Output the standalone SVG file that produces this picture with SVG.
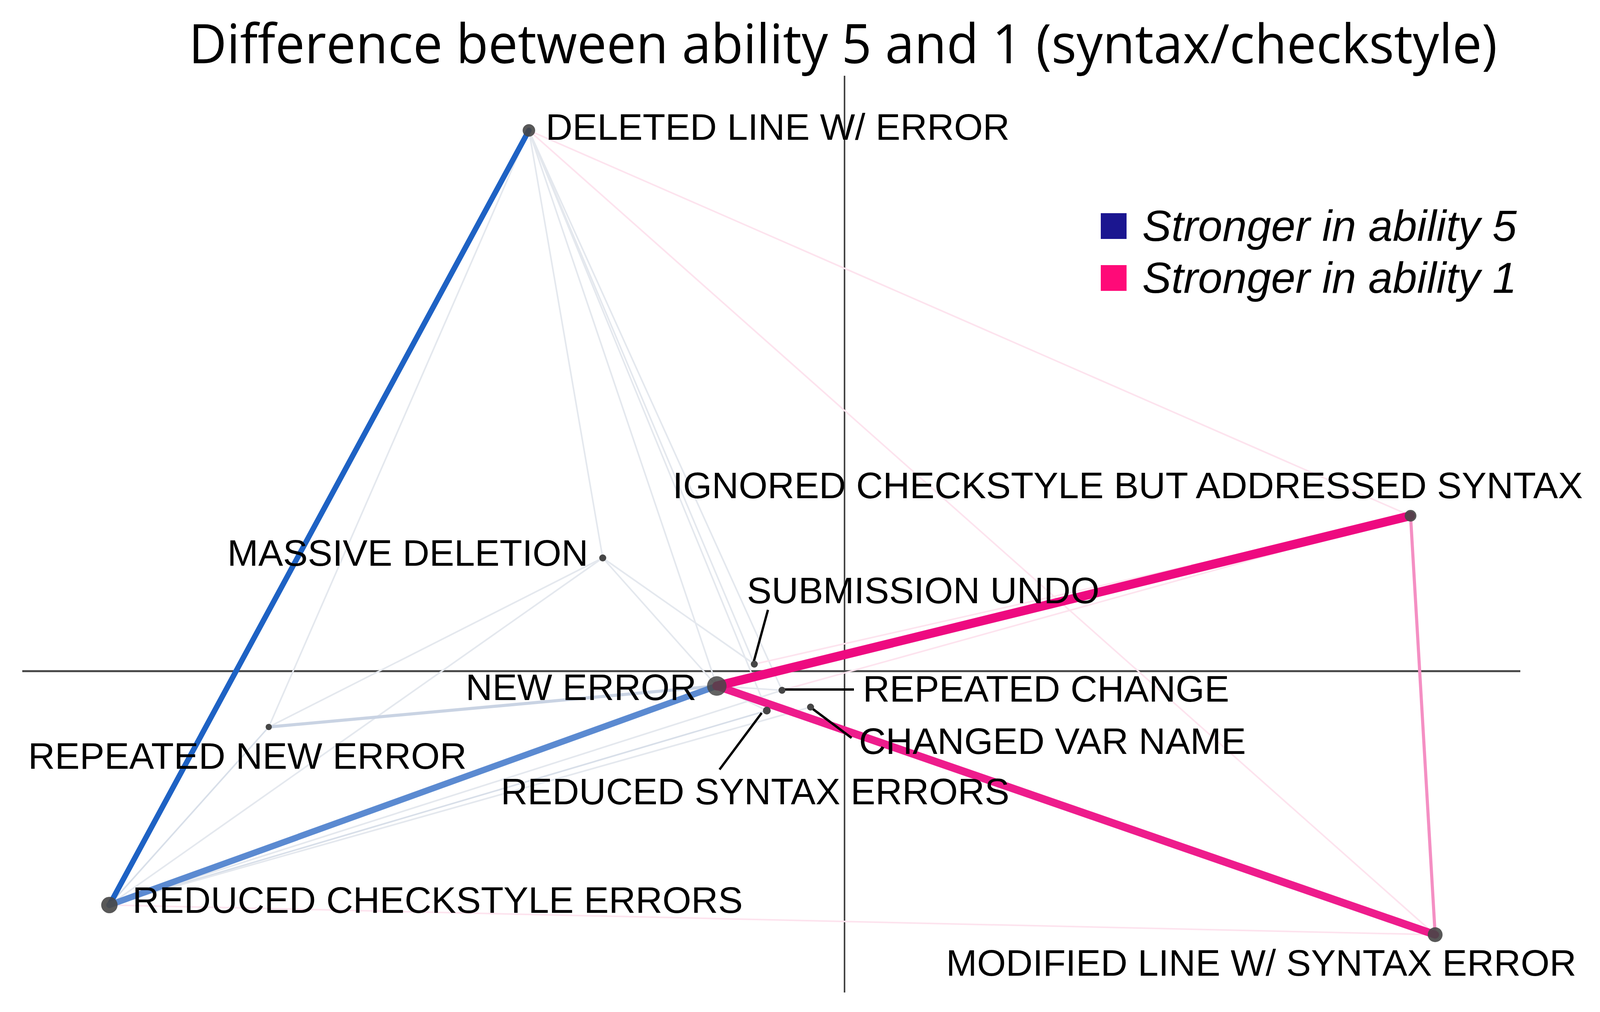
<svg xmlns="http://www.w3.org/2000/svg" width="4125" height="2592" viewBox="0 0 4125 2592">
<style>
.lbl{font-family:"Liberation Sans",Arial,sans-serif;font-size:95px;fill:#000}
.leg{font-family:"Liberation Sans",Arial,sans-serif;font-size:112px;font-style:italic;fill:#000}
.title{font-family:"Open Sans","Liberation Sans",sans-serif;font-size:140px;fill:#000}
.node{fill:#464646}
.axis{stroke:#444;fill:none}
.lead{stroke:#000;stroke-width:6;fill:none}
.e{fill:none;stroke-linecap:round}
.fb{stroke:#e4e8ee;stroke-width:4}
.fb2{stroke:#d8dfe9;stroke-width:4}
.fp{stroke:#fde3ee;stroke-width:4}
</style>
<rect width="4125" height="2592" fill="#fff"/>
<text class="title" x="483" y="162" textLength="3350" lengthAdjust="spacingAndGlyphs">Difference between ability 5 and 1 (syntax/checkstyle)</text>
<g id="axes">
<line class="axis" x1="57" y1="1719" x2="3892" y2="1719" stroke-width="5"/>
<line class="axis" x1="2162" y1="194" x2="2162" y2="2542" stroke-width="4"/>
</g>
<g id="legend">
<rect x="2818" y="546" width="66" height="66" fill="#1b1690"/>
<text class="leg" x="2924" y="617">Stronger in ability 5</text>
<rect x="2818" y="679" width="66" height="66" fill="#ff0a78"/>
<text class="leg" x="2924" y="750">Stronger in ability 1</text>
</g>
<g id="connectors">
<line class="e fb" x1="1354" y1="334" x2="1543" y2="1429"/>
<line class="e fb" x1="1354" y1="334" x2="1835" y2="1757"/>
<line class="e fb" x1="1354" y1="334" x2="1931" y2="1701"/>
<line class="e fb" x1="1354" y1="334" x2="2002" y2="1768"/>
<line class="e fb" x1="1354" y1="334" x2="1963" y2="1820"/>
<line class="e fb" x1="1354" y1="334" x2="688" y2="1862"/>
<line class="e fp" x1="1354" y1="334" x2="3611" y2="1321"/>
<line class="e fp" x1="1354" y1="334" x2="3674" y2="2394"/>
<line class="e fb" x1="1543" y1="1429" x2="1835" y2="1757"/>
<line class="e fb" x1="1543" y1="1429" x2="1931" y2="1701"/>
<line class="e fb" x1="1543" y1="1429" x2="280" y2="2318"/>
<line class="e fb" x1="1543" y1="1429" x2="688" y2="1862"/>
<line class="e fb2" x1="688" y1="1862" x2="280" y2="2318"/>
<line class="e fb2" x1="280" y1="2318" x2="1963" y2="1820"/>
<line class="e fb" x1="280" y1="2318" x2="2002" y2="1768"/>
<line class="e fb" x1="280" y1="2318" x2="2075" y2="1811"/>
<line class="e fp" x1="280" y1="2318" x2="3674" y2="2394" stroke-width="6"/>
<line class="e fp" x1="2002" y1="1768" x2="3611" y2="1321"/>
<line class="e fp" x1="1931" y1="1701" x2="3611" y2="1321"/>
<line class="e fb" x1="1835" y1="1757" x2="2002" y2="1768"/>
<line class="e fb" x1="1835" y1="1757" x2="1963" y2="1820"/>
<line class="e" x1="688" y1="1862" x2="1835" y2="1757" stroke="#c9d3e3" stroke-width="8"/>
<line class="e" x1="3611" y1="1321" x2="3674" y2="2394" stroke="#f48fc3" stroke-width="8"/>
<line class="e" x1="1354" y1="334" x2="280" y2="2318" stroke="#1e62c4" stroke-width="14"/>
<line class="e" x1="1835" y1="1757" x2="280" y2="2318" stroke="#5b8ad1" stroke-width="16"/>
<line class="e" x1="1835" y1="1757" x2="3674" y2="2394" stroke="#ee1c8c" stroke-width="20"/>
<line class="e" x1="1835" y1="1757" x2="3611" y2="1321" stroke="#ee0a80" stroke-width="23"/>
<line class="lead" x1="1966" y1="1562" x2="1929" y2="1697"/>
<line class="lead" x1="2004" y1="1766" x2="2186" y2="1766"/>
<line class="lead" x1="1950" y1="1826" x2="1842" y2="1971"/>
<line class="lead" x1="2077" y1="1813" x2="2180" y2="1890"/>
</g>
<g id="n-deleted"><circle class="node" cx="1354" cy="334" r="16" opacity="0.9"/><text class="lbl" x="1397" y="358">DELETED LINE W/ ERROR</text></g>
<g id="n-ignored"><circle class="node" cx="3611" cy="1321" r="15" opacity="0.9"/><text class="lbl" x="1722" y="1276">IGNORED CHECKSTYLE BUT ADDRESSED SYNTAX</text></g>
<g id="n-massive"><circle class="node" cx="1543" cy="1429" r="9"/><text class="lbl" x="582" y="1449">MASSIVE DELETION</text></g>
<g id="n-undo"><circle class="node" cx="1931" cy="1701" r="9"/><text class="lbl" x="1912" y="1545">SUBMISSION UNDO</text></g>
<g id="n-newerror"><circle class="node" cx="1835" cy="1757" r="25" opacity="0.85"/><text class="lbl" x="1192" y="1793">NEW ERROR</text></g>
<g id="n-repchange"><circle class="node" cx="2002" cy="1768" r="9"/><text class="lbl" x="2209" y="1797">REPEATED CHANGE</text></g>
<g id="n-varname"><circle class="node" cx="2075" cy="1811" r="9"/><text class="lbl" x="2199" y="1931">CHANGED VAR NAME</text></g>
<g id="n-syntax"><circle class="node" cx="1963" cy="1820" r="10"/><text class="lbl" x="1282" y="2060">REDUCED SYNTAX ERRORS</text></g>
<g id="n-repnew"><circle class="node" cx="688" cy="1862" r="8"/><text class="lbl" x="72" y="1969">REPEATED NEW ERROR</text></g>
<g id="n-checkstyle"><circle class="node" cx="280" cy="2318" r="21" opacity="0.9"/><text class="lbl" x="339" y="2338">REDUCED CHECKSTYLE ERRORS</text></g>
<g id="n-modified"><circle class="node" cx="3674" cy="2394" r="19" opacity="0.9"/><text class="lbl" x="2422" y="2499">MODIFIED LINE W/ SYNTAX ERROR</text></g>
</svg>
